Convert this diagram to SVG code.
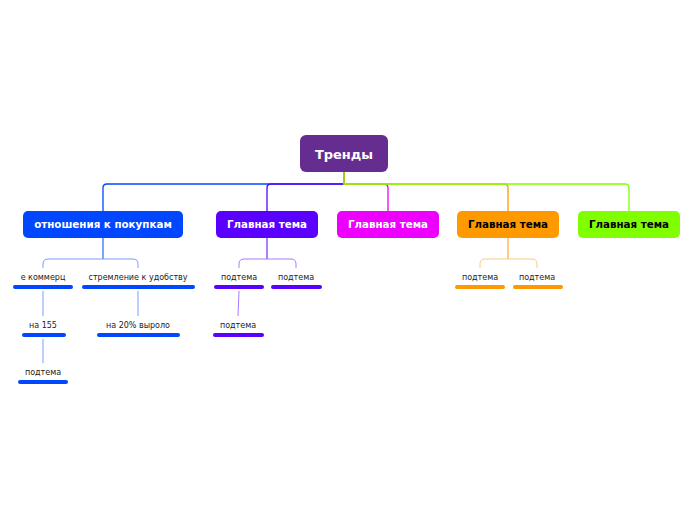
<svg xmlns="http://www.w3.org/2000/svg" width="696" height="520" viewBox="0 0 696 520">
<style>
text{font-family:"DejaVu Sans","Noto Sans",sans-serif;text-anchor:middle}
.m{font-size:10.3px;font-weight:bold;fill:#fff}
.mb{font-size:10.3px;font-weight:bold;fill:#000}
.s{font-size:8px;fill:#222}
.c{fill:none;stroke-width:1.3}
.sc{fill:none;stroke-width:1}
.bar{stroke-width:4;stroke-linecap:round}
</style>
<rect width="696" height="520" fill="#fff"/>
<g id="connectors">
<path class="c" stroke="#0047ff" d="M344 172V184H107Q103 184 103 188V211"/>
<path class="c" stroke="#5a00ff" d="M344 172V184H271Q267 184 267 188V211"/>
<path class="c" stroke="#ee00ff" d="M344 172V184H384Q388 184 388 188V211"/>
<path class="c" stroke="#ff9900" d="M344 172V184H504Q508 184 508 188V211"/>
<path class="c" stroke="#80ff00" d="M344 172V184H625Q629 184 629 188V211"/>
<path class="sc" stroke="#0047ff" d="M103 238V259"/>
<path class="sc" stroke="#7a9bff" d="M43 268V264Q43 259 48 259H133Q138 259 138 264V268"/>
<path class="sc" stroke="#7a9bff" d="M43 291V316"/>
<path class="sc" stroke="#7a9bff" d="M138 291V316"/>
<path class="sc" stroke="#7a9bff" d="M43 339V363"/>
<path class="sc" stroke="#5a00ff" d="M267 238V259"/>
<path class="sc" stroke="#a77aff" d="M239 268V264Q239 259 244 259H291Q296 259 296 264V268"/>
<path class="sc" stroke="#a77aff" d="M239 291L238 316"/>
<path class="sc" stroke="#ff9900" d="M508 238V259"/>
<path class="sc" stroke="#ffc880" d="M480 268V264Q480 259 485 259H532Q537 259 537 264V268"/>
</g>
<g id="root">
<rect x="300" y="135" width="88" height="37" rx="6" fill="#662d91"/>
<text x="344" y="159" style="font-size:13px;font-weight:bold;fill:#fff">Тренды</text>
</g>
<g id="t1">
<rect x="23" y="211" width="160" height="27" rx="5" fill="#0047ff"/>
<text class="m" x="103" y="228">отношения к покупкам</text>
</g>
<g id="t2">
<rect x="216" y="211" width="102" height="27" rx="5" fill="#5a00ff"/>
<text class="m" x="267" y="228">Главная тема</text>
</g>
<g id="t3">
<rect x="337" y="211" width="102" height="27" rx="5" fill="#ee00ff"/>
<text class="m" x="388" y="228">Главная тема</text>
</g>
<g id="t4">
<rect x="457" y="211" width="102" height="27" rx="5" fill="#ff9900"/>
<text class="mb" x="508" y="228">Главная тема</text>
</g>
<g id="t5">
<rect x="578" y="211" width="102" height="27" rx="5" fill="#80ff00"/>
<text class="mb" x="629" y="228">Главная тема</text>
</g>
<g id="s1">
<text class="s" x="43" y="280">е коммерц</text>
<line class="bar" stroke="#0047ff" x1="15" y1="287" x2="71" y2="287"/>
</g>
<g id="s2">
<text class="s" x="138" y="280">стремление к удобству</text>
<line class="bar" stroke="#0047ff" x1="84" y1="287" x2="193" y2="287"/>
</g>
<g id="s3">
<text class="s" x="43" y="328">на 155</text>
<line class="bar" stroke="#0047ff" x1="24" y1="335" x2="64" y2="335"/>
</g>
<g id="s4">
<text class="s" x="138" y="328">на 20% выроло</text>
<line class="bar" stroke="#0047ff" x1="99" y1="335" x2="178" y2="335"/>
</g>
<g id="s5">
<text class="s" x="43" y="375">подтема</text>
<line class="bar" stroke="#0047ff" x1="20" y1="382" x2="66" y2="382"/>
</g>
<g id="s6">
<text class="s" x="239" y="280">подтема</text>
<line class="bar" stroke="#5a00ff" x1="216" y1="287" x2="262" y2="287"/>
</g>
<g id="s7">
<text class="s" x="296" y="280">подтема</text>
<line class="bar" stroke="#5a00ff" x1="273" y1="287" x2="320" y2="287"/>
</g>
<g id="s8">
<text class="s" x="238" y="328">подтема</text>
<line class="bar" stroke="#5a00ff" x1="215" y1="335" x2="262" y2="335"/>
</g>
<g id="s9">
<text class="s" x="480" y="280">подтема</text>
<line class="bar" stroke="#ff9900" x1="457" y1="287" x2="503" y2="287"/>
</g>
<g id="s10">
<text class="s" x="537" y="280">подтема</text>
<line class="bar" stroke="#ff9900" x1="515" y1="287" x2="561" y2="287"/>
</g>
</svg>
